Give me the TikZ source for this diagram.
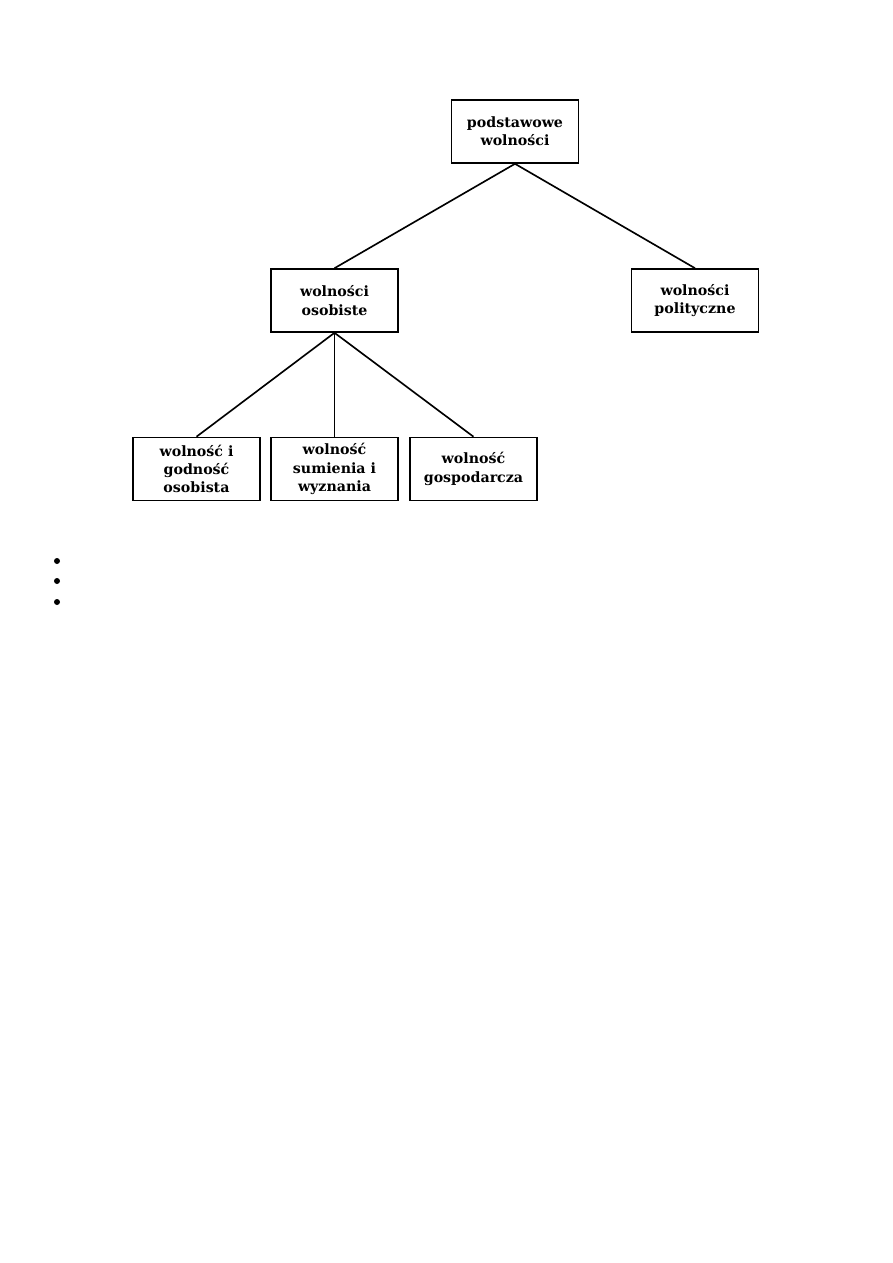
\documentclass[tikz,border=0pt]{standalone}
\usepackage{fontspec}
\setmainfont{DejaVu Serif}
\usepackage{tikz}

\tikzset{
  freebox/.style={draw, line width=1.1pt, minimum width=2.99cm,
    minimum height=1.48cm, align=center, inner sep=2pt,
    font=\bfseries\fontsize{9.5}{12.3}\selectfont},
  branch/.style={line width=1.1pt}
}

\begin{document}
\begin{tikzpicture}[x=0.023516cm, y=-0.023516cm]
  \useasboundingbox (0,0) rectangle (893,1263);
  % Root
  \node[freebox] (podst) at (515,131.5) {podstawowe\\wolności};
  % Second level
  \node[freebox] (osob) at (334.5,300.5) {wolności\\osobiste};
  \node[freebox] (polit) at (695,300.5) {wolności\\polityczne};
  % Third level
  \node[freebox] (godn) at (196.5,469) {wolność i\\godność\\osobista};
  \node[freebox] (sumien) at (334.5,469) {wolność\\sumienia i\\wyznania};
  \node[freebox] (gosp) at (473.5,469) {wolność\\gospodarcza};
  % Branches
  \draw[branch] (podst.south) -- (osob.north);
  \draw[branch] (podst.south) -- (polit.north);
  \foreach \child in {godn,sumien,gosp}
    \draw[branch] (osob.south) -- (\child.north);
  % Bullets
  \foreach \y in {561,581,602}
    \fill (57,\y) circle (3);
\end{tikzpicture}
\end{document}
